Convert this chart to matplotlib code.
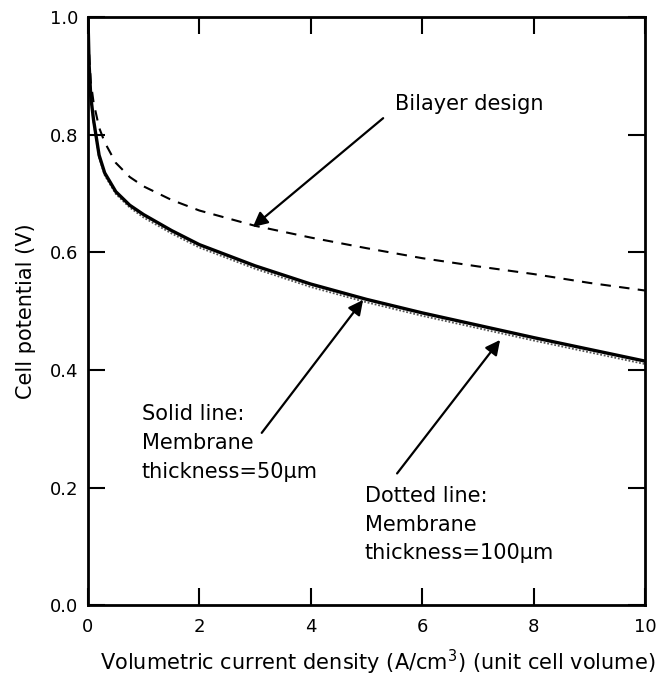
import matplotlib.pyplot as plt

# Cell potential vs volumetric current density

current = [0, 0.02, 0.05, 0.1, 0.2, 0.3, 0.5, 0.75, 1, 1.5, 2, 3, 4, 5, 6, 7, 8, 9, 10]
solid50 = [1.0, 0.92, 0.865, 0.825, 0.765, 0.735, 0.703, 0.68, 0.664, 0.637, 0.613, 0.577,
           0.546, 0.52, 0.497, 0.476, 0.455, 0.435, 0.415]
dotted100 = [1.0, 0.918, 0.862, 0.821, 0.761, 0.731, 0.699, 0.676, 0.659, 0.632, 0.608, 0.572,
             0.541, 0.515, 0.492, 0.471, 0.45, 0.43, 0.41]
bilayer = [1.0, 0.94, 0.89, 0.855, 0.812, 0.787, 0.752, 0.728, 0.712, 0.689, 0.671, 0.645,
           0.625, 0.607, 0.59, 0.576, 0.563, 0.548, 0.535]

xticks = [0, 2, 4, 6, 8, 10]
yticks = [0.0, 0.2, 0.4, 0.6, 0.8, 1.0]

fig = plt.figure(figsize=(6.69, 6.80), dpi=100)
ax = fig.add_axes([0.1315, 0.110, 0.8325, 0.865])

ax.plot(current, dotted100, color='#555555', lw=1.3, linestyle=(0, (1, 1)))
ax.plot(current, solid50, color='black', lw=2.4)
ax.plot(current, bilayer, color='black', lw=1.5, linestyle=(0, (5, 4)))

ax.set_xlim(0, 10)
ax.set_ylim(0, 1.0)
ax.set_xticks(xticks)
ax.set_xticklabels([str(t) for t in xticks])
ax.set_yticks(yticks)
ax.set_yticklabels(['%.1f' % t for t in yticks])
ax.tick_params(direction='in', length=12, width=1.5, top=True, right=True,
               labelsize=13, pad=7)
ax.tick_params(axis='x', pad=9)
for s in ax.spines.values():
    s.set_linewidth(2)

ax.set_xlabel('Volumetric current density (A/cm$^3$) (unit cell volume)', fontsize=15, labelpad=9)
ax.xaxis.label.set_x(0.52)
ax.set_ylabel('Cell potential (V)', fontsize=15, labelpad=10)

arrow = dict(arrowstyle='-|>', color='black', lw=1.6, mutation_scale=22, shrinkA=0, shrinkB=0)
ax.annotate('', xy=(2.96, 0.643), xytext=(5.30, 0.828), arrowprops=arrow)
ax.text(6.84, 0.842, 'Bilayer design', fontsize=15, ha='center', va='baseline')

ax.annotate('', xy=(4.94, 0.519), xytext=(3.12, 0.293), arrowprops=arrow)
ax.text(0.97, 0.342, 'Solid line:\nMembrane\nthickness=50μm', fontsize=15,
        ha='left', va='top', linespacing=1.55)

ax.annotate('', xy=(7.40, 0.451), xytext=(5.55, 0.224), arrowprops=arrow)
ax.text(4.97, 0.203, 'Dotted line:\nMembrane\nthickness=100μm', fontsize=15,
        ha='left', va='top', linespacing=1.55)

fig.savefig('out.png', dpi=100)
